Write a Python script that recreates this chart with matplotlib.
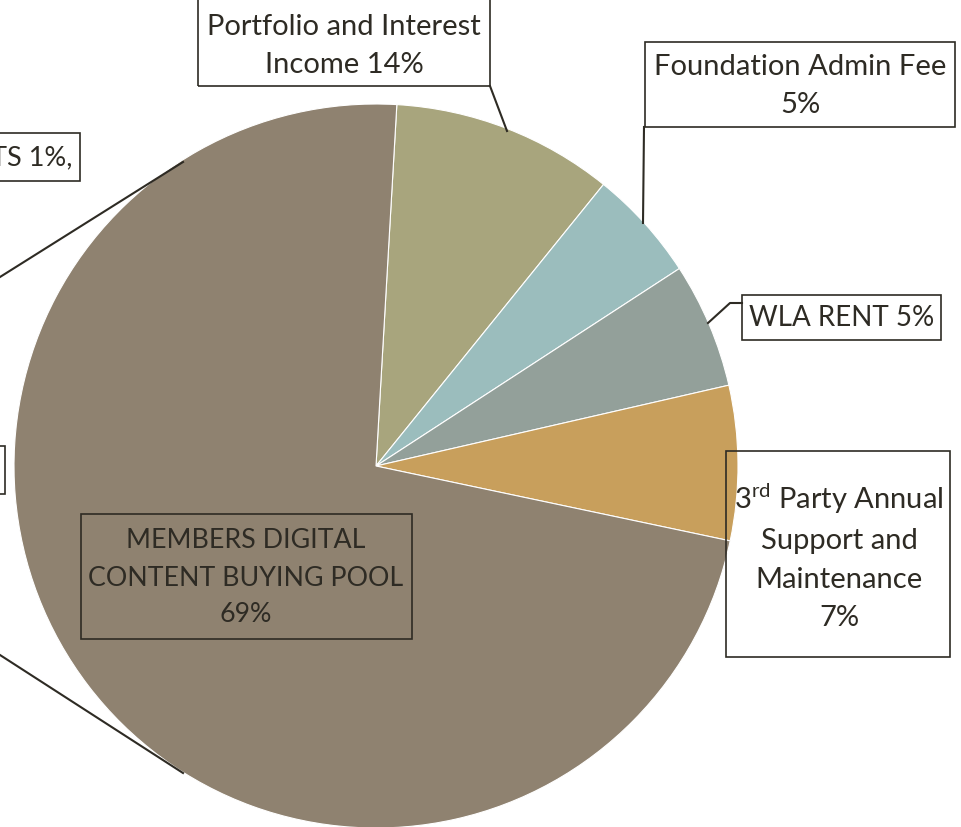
import matplotlib
matplotlib.use("Agg")
import matplotlib.pyplot as plt
from matplotlib.patches import Rectangle

plt.rcParams['font.family'] = ['Lato', 'DejaVu Sans']
plt.rcParams['mathtext.fontset'] = 'custom'
plt.rcParams['mathtext.rm'] = 'Lato'

#%% data (slice shares, clockwise from the top)
categories = ['Portfolio and Interest Income', 'Foundation Admin Fee', 'WLA RENT',
              '3rd Party Annual Support and Maintenance', 'MEMBERS DIGITAL CONTENT BUYING POOL']
shares = [9.9, 5.0, 5.6, 6.9, 72.6]
printed_pct = [14, 5, 5, 7, 69]
colors = ['#a8a57d', '#9bbdbd', '#93a09a', '#c89f5c', '#8f8270']

W, H = 961, 827
def Y(py):
    return H - py

fig = plt.figure(figsize=(9.61, 8.27), dpi=100, facecolor='white')
ax = fig.add_axes([0, 0, 1, 1])

ax.pie(shares, colors=colors, startangle=86.7, counterclock=False,
       center=(376, Y(466)), radius=362,
       wedgeprops=dict(edgecolor='white', linewidth=0.8))
ax.set_xlim(0, W)
ax.set_ylim(0, H)
ax.set_aspect('equal')
ax.axis('off')

ink = '#2e2b24'
fs = 21
ls = 1.6

def box(x0, y0, x1, y1):
    ax.add_patch(Rectangle((x0, Y(y1)), x1 - x0, y1 - y0, fill=False,
                           edgecolor=ink, linewidth=1.2, zorder=5))

def leader(xs, ys):
    ax.plot(xs, [Y(v) for v in ys], color=ink, linewidth=1.5, zorder=5)

def label(x, y, s, size=fs, **kw):
    ax.text(x, Y(y), s, ha='center', va='center', multialignment='center',
            fontsize=size, color=ink, linespacing=ls, zorder=6, **kw)

# Portfolio
box(198, -5, 490, 86)
label(344, 46, 'Portfolio and Interest\nIncome %d%%' % printed_pct[0])
leader([490, 507], [86, 131])

# Foundation
box(645, 42, 955, 127)
label(800, 86, 'Foundation Admin Fee\n%d%%' % printed_pct[1])
leader([644, 643], [127, 223])

# WLA
box(742, 295, 941, 340)
label(842, 318, 'WLA RENT %d%%' % printed_pct[2], size=20)
leader([742, 730, 708], [303, 303, 323])

# 3rd party
box(726, 451, 950, 657)
label(839, 556, '3$^{\\mathrm{rd}}$ Party Annual\nSupport and\nMaintenance\n%d%%' % printed_pct[3])

# members
box(81, 514, 412, 639)
label(246, 578, 'MEMBERS DIGITAL\nCONTENT BUYING POOL\n%d%%' % printed_pct[4], size=19.3)

# cut-off labels on the left
box(-60, 133, 80, 181)
ax.text(72, Y(158), 'TS 1%,', ha='right', va='center', fontsize=19.5, color=ink, zorder=6)
leader([0, 183], [277, 162])
box(-60, 446, 5, 494)
leader([0, 183], [655, 773])

fig.savefig('out.png', dpi=100, facecolor='white')
